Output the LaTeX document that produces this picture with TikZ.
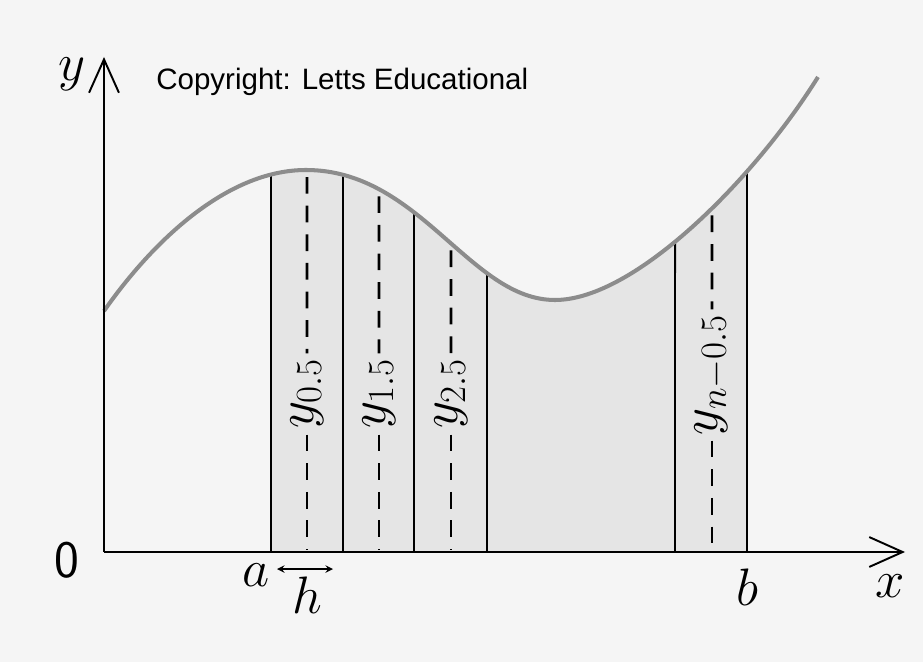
\RequirePackage{fix-cm}
\documentclass[tikz,border=0pt]{standalone}
\usepackage{fontspec}
\newfontfamily\copyfont{Liberation Sans}
\usetikzlibrary{arrows.meta,intersections}
\begin{document}
\begin{tikzpicture}[>=stealth,
    x=0.02cm, y=-0.02cm,
    eje/.style={line width=1.1pt,
      -{Straight Barb[length=19pt,width=17pt,line width=1.1pt]}},
    curva/.style={line width=2.3pt,black!45},
    franja/.style={line width=1.1pt},
    media/.style={line width=1.5pt,dash pattern=on 9.5pt off 6.8pt},
    etiq/.style={font=\fontsize{30}{34}\selectfont},
    ordenada/.style={rotate=90,inner sep=3pt,font=\fontsize{30}{34}\selectfont}]
  \useasboundingbox (0,0) rectangle (923,662);
  \fill[black!4] (0,0) rectangle (923,662);

  % Area sombreada
  \begin{scope}
    \clip (271,0) rectangle (747,552);
    \fill[black!10] (104,311) .. controls (150,245) and (225,170) .. (306,170)
      .. controls (420,170) and (470,300) .. (555,300)
      .. controls (635,300) and (755,178) .. (818,77)
      -- (818,552) -- (104,552) -- cycle;
  \end{scope}

  % Curva
  \path[name path=curva] (104,311) .. controls (150,245) and (225,170) .. (306,170)
    .. controls (420,170) and (470,300) .. (555,300)
    .. controls (635,300) and (755,178) .. (818,77);

  % Franjas
  \foreach \x in {271,343,414,487,675,747}{
    \path[name path=vl] (\x,560) -- (\x,0);
    \path[name intersections={of=curva and vl,by=tope}];
    \draw[franja] (\x,552) -- (tope);
  }

  % Ordenadas medias
  \foreach \x/\yc/\s/\n in {307/394/0.5/ym1,379/394/1.5/ym2,
      451/394/2.5/ym3,712/375/n-0.5/ymn}{
    \node[ordenada] (\n) at (\x,\yc) {$y_{\s}$};
    \path[name path=vl] (\x,560) -- (\x,0);
    \path[name intersections={of=curva and vl,by=tope}];
    \draw[media,shorten <=4pt] (tope) -- (\n.east);
    \draw[media] (\n.west) -- (\x,550);
  }

  \draw[curva] (104,311) .. controls (150,245) and (225,170) .. (306,170)
    .. controls (420,170) and (470,300) .. (555,300)
    .. controls (635,300) and (755,178) .. (818,77);

  % Ejes
  \coordinate (O) at (104,552);
  \coordinate (xfin) at (905,552);
  \coordinate (yfin) at (104,57);
  \draw[eje] (O) -- (xfin);
  \draw[eje] (O) -- (yfin);

  % Etiquetas
  \node[etiq] (ylab) at (72,74) {$y$};
  \node[etiq] (xlab) at (890,586) {$x$};
  \node[etiq] (cero) at (67,560) {\sffamily 0};
  \node[etiq] (alab) at (256,575) {$a$};
  \node[etiq] (blab) at (747,587) {$b$};
  \node[etiq] (hlab) at (307,595) {$h$};
  \coordinate (h1) at (277,569);
  \coordinate (h2) at (333,569);
  \draw[<->,line width=0.9pt] (h1) -- (h2);

  \node[anchor=west,inner sep=0pt,font=\copyfont\fontsize{16.8}{20}\selectfont]
    (copy) at (156,82) {Copyright: Letts Educational};
\end{tikzpicture}
\end{document}
